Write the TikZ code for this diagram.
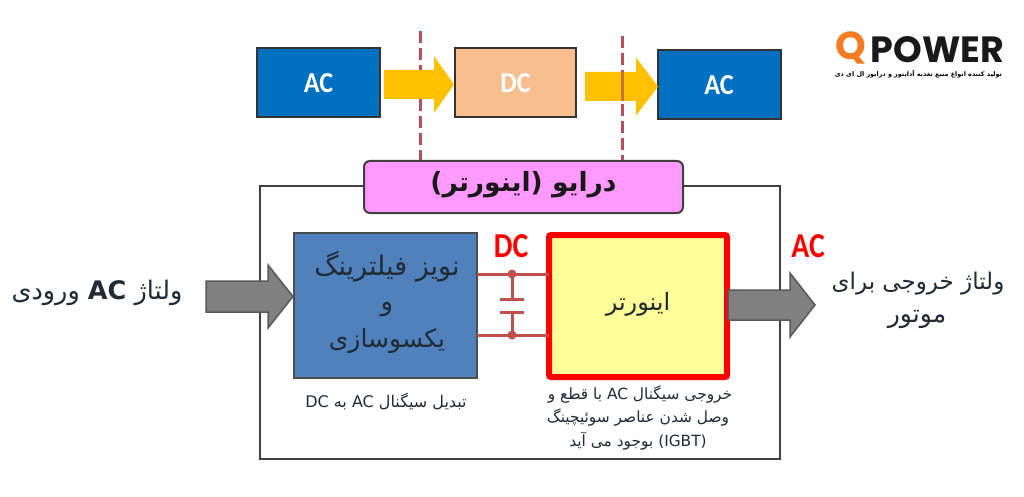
\documentclass[tikz,border=0pt]{standalone}
\usepackage{fontspec}
\setmainfont{DejaVu Sans}
\newfontfamily\arabicfont[Script=Arabic]{DejaVu Sans}
\newfontfamily\narrowfont{Carlito}
\newfontfamily\logofont{Poppins}
\TeXXeTstate=1
\newcommand{\rtltext}[1]{{\arabicfont\beginR #1\endR}}
\newcommand{\ltrtext}[1]{\beginL{\rmfamily #1}\endL{}}
\newcommand{\fs}[1]{\fontsize{#1}{#1}\selectfont}
\newcommand{\narrowlabel}[3]{\scalebox{#2}[1]{\narrowfont\bfseries\fs{#1}#3}}
\newcommand{\blockarrow}[7]{\draw[#1] (#2,#5-#6) -- (#3,#5-#6) -- (#3,#5-#7) -- (#4,#5) -- (#3,#5+#7) -- (#3,#5+#6) -- (#2,#5+#6) -- cycle;}
\definecolor{blueAC}{HTML}{0070C0}
\definecolor{peach}{HTML}{F8BE8E}
\definecolor{amberA}{HTML}{FFC000}
\definecolor{dashred}{HTML}{B5505A}
\definecolor{pinkbox}{HTML}{FF99FF}
\definecolor{filterblue}{HTML}{4F81BD}
\definecolor{invyellow}{HTML}{FFFF99}
\definecolor{wirered}{HTML}{C0504D}
\definecolor{txtdark}{HTML}{222A33}
\definecolor{qorange}{HTML}{F47B20}
\tikzset{
  x=1pt,y=-1pt,
  every node/.style={inner sep=0pt,outer sep=0pt},
  acbox/.style={draw=black!80,line width=2pt,fill=blueAC,minimum width=123pt,minimum height=69pt,text=white},
  wire/.style={wirered,line width=3pt},
  dcut/.style={dashred,line width=3pt,dash pattern=on 12pt off 5pt},
  amberarrow/.style={fill=amberA,draw=none},
  grayarrow/.style={fill=black!50,draw=black!65,line width=1.5pt},
  redlabel/.style={text=red},
  ptext/.style={text=txtdark}
}
\begin{document}
\begin{tikzpicture}
\useasboundingbox (0,0) rectangle (1024,497);
\fill[white] (0,0) rectangle (1024,497);
% outer frame
\node[draw=black!75,line width=1.5pt,minimum width=520pt,minimum height=273pt] (frame) at (520,322.5) {};
% cut lines
\coordinate (cut1a) at (420,31);
\coordinate (cut2a) at (622,36);
\coordinate (cut1b) at (420,161);
\coordinate (cut2b) at (622,161);
\draw[dcut] (cut1a) -- (cut1b);
\draw[dcut] (cut2a) -- (cut2b);
% top row
\node[acbox] (ac1) at (318.5,83) {\narrowlabel{29}{0.9}{AC}};
\node[draw=black!80,line width=2pt,fill=peach,minimum width=121pt,minimum height=69pt,text=white] (dc) at (515.5,83) {\narrowlabel{29}{0.9}{DC}};
\node[acbox] (ac2) at (719,85) {\narrowlabel{29}{0.9}{AC}};
\blockarrow{amberarrow}{384}{434}{454}{84.5}{14.5}{28.5}
\blockarrow{amberarrow}{585}{636}{658}{86.5}{14.5}{29}
\coordinate (cut2c) at (622,72);
\coordinate (cut2d) at (622,101);
\draw[line width=3pt,color=dashred!70!amberA] (cut2c) -- (cut2d);
% pink title
\node[draw=black!75,line width=2pt,fill=pinkbox,rounded corners=6pt,minimum width=319pt,minimum height=52pt] (drive) at (523.5,187) {};
\node[font=\bfseries\fs{26.5},text=black!90] (drivet) at (523.5,185) {{\arabicfont\bfseries\beginR درایو (اینورتر)\endR}};
% filter block
\node[draw=black!70,line width=1.5pt,fill=filterblue,minimum width=183pt,minimum height=145pt] (filter) at (385.5,305.5) {};
\node[ptext,font=\fs{27}] (f1) at (387,267) {\rtltext{نویز فیلترینگ}};
\node[ptext,font=\fs{26}] (f2) at (387,310) {\rtltext{و}};
\node[ptext,font=\fs{25}] (f3) at (387,341) {\rtltext{یکسوسازی}};
% inverter block
\node[draw=red,line width=6pt,fill=invyellow,rounded corners=2pt,minimum width=178pt,minimum height=142pt] (inv) at (638,306) {};
\node[ptext,font=\fs{24}] (invt) at (638,304) {\rtltext{اینورتر}};
% wires and capacitor
\coordinate (w1a) at (filter.east |- 0,274);
\coordinate (w1b) at (inv.west |- 0,274);
\coordinate (w2a) at (filter.east |- 0,335);
\coordinate (w2b) at (inv.west |- 0,335);
\coordinate (j1) at (512,274);
\coordinate (j2) at (512,335);
\coordinate (p1) at (512,299);
\coordinate (p2) at (512,312);
\draw[wire] (w1a) -- (w1b);
\draw[wire] (w2a) -- (w2b);
\draw[wire] (j1) -- (p1);
\draw[wire] (j2) -- (p2);
\draw[wire] ([xshift=-12pt]p1) -- ([xshift=12pt]p1);
\draw[wire] ([xshift=-12pt]p2) -- ([xshift=12pt]p2);
\fill[wirered] (j1) circle (4.5pt);
\fill[wirered] (j2) circle (4.5pt);
\node[redlabel] (dclabel) at (511,246) {\narrowlabel{35}{0.85}{DC}};
\node[redlabel] (aclabel) at (808,246) {\narrowlabel{35}{0.85}{AC}};
% gray arrows
\blockarrow{grayarrow}{206}{268}{293}{296.5}{15.5}{31.5}
\blockarrow{grayarrow}{728}{790}{815}{305}{15}{32}
% outer labels
\node[font=\fs{25.5},ptext] (inL) at (97,293) {\rtltext{ولتاژ \ltrtext{\bfseries AC} ورودی}};
\node[font=\fs{23},ptext] (out1) at (918,284) {\rtltext{ولتاژ خروجی برای}};
\node[font=\fs{25},ptext] (out2) at (917,319) {\rtltext{موتور}};
% captions
\node[font=\fs{16},ptext] (cap0) at (386,402) {\rtltext{تبدیل سیگنال \ltrtext{AC} به \ltrtext{DC}}};
\node[font=\fs{15.4},ptext] (cap1) at (640,394) {\rtltext{خروجی سیگنال \ltrtext{AC} با قطع و}};
\node[font=\fs{15.4},ptext] (cap2) at (638,417) {\rtltext{وصل شدن عناصر سوئیچینگ}};
\node[font=\fs{15.4},ptext] (cap3) at (638,441) {\rtltext{\ltrtext{(IGBT)} بوجود می آید}};
% logo
\node[anchor=west,text=qorange,font=\logofont\bfseries\fs{39}] (logoq) at (835,48) {Q};
\node[anchor=east,text=black!90,font=\logofont\bfseries\fs{36.5}] (logop) at (1004,50) {POWER};
\node[anchor=east,text=black,font=\bfseries\fs{6.4}] (logot) at (1002,74) {{\arabicfont\bfseries\beginR تولید کننده انواع منبع تغذیه آداپتور و درایور ال ای دی\endR}};
\end{tikzpicture}
\end{document}
